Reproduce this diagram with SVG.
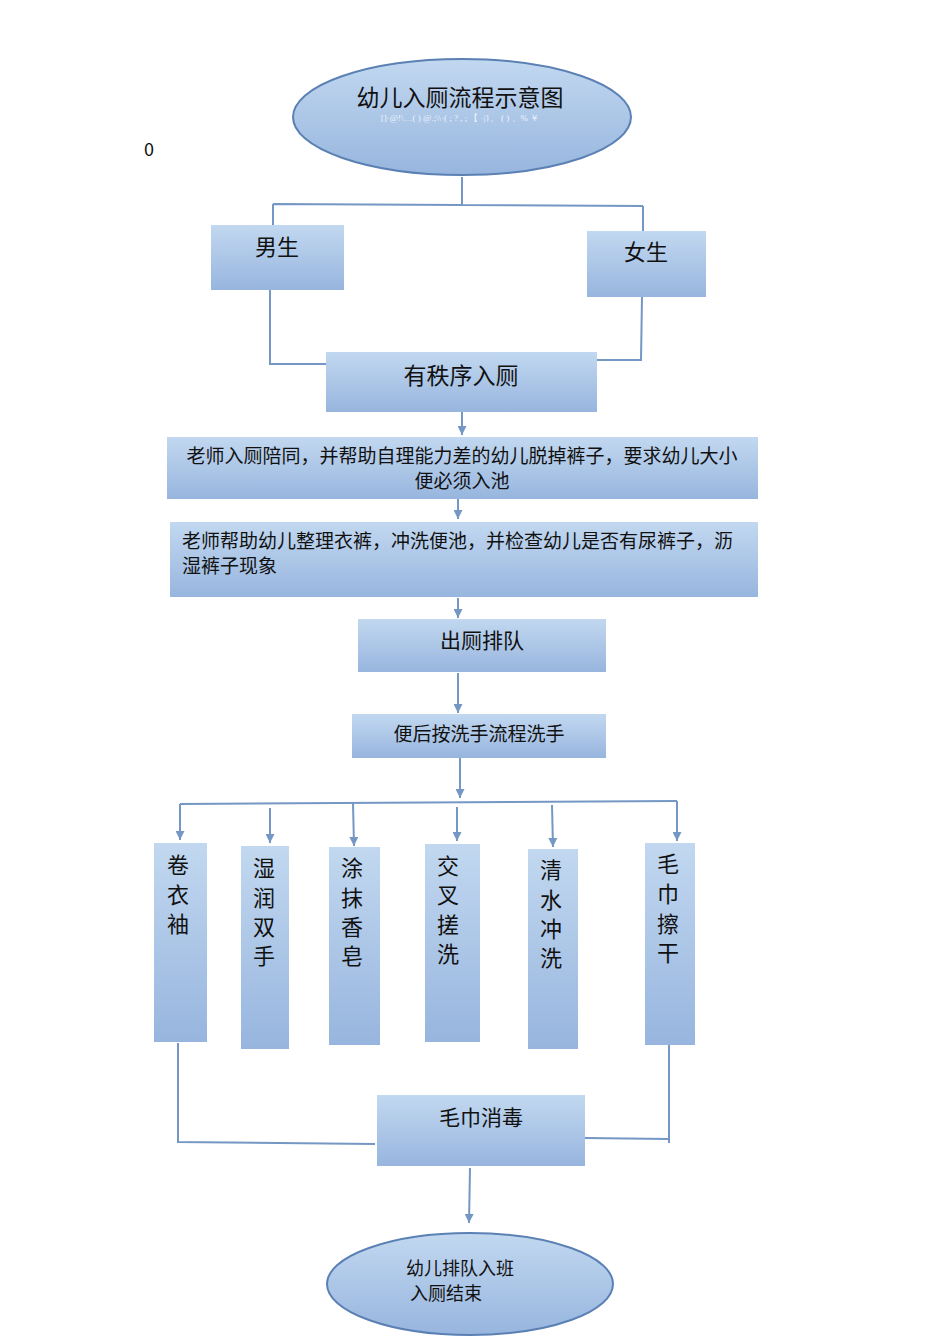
<svg xmlns="http://www.w3.org/2000/svg" width="950" height="1344" viewBox="0 0 950 1344">
<defs>
<linearGradient id="g" x1="0" y1="0" x2="0" y2="1"><stop offset="0" stop-color="#c2d8f0"/><stop offset="1" stop-color="#97b5de"/></linearGradient>
<marker id="a" markerWidth="9" markerHeight="9" refX="9" refY="4.5" orient="auto" markerUnits="userSpaceOnUse" viewBox="0 0 9 9"><path d="M0,0 L9,4.5 L0,9 Z" fill="#7497c4"/></marker>
<style>
.b{fill:url(#g);}
.e{fill:url(#g);stroke:#5b80b4;stroke-width:2;}
.t{font-family:"Noto Sans CJK SC","Liberation Sans",sans-serif;fill:#111;}
.c{fill:none;stroke:#7497c4;stroke-width:2;}
.ca{fill:none;stroke:#7497c4;stroke-width:2;marker-end:url(#a);}
</style>
</defs>
<rect width="950" height="1344" fill="#fff"/>
<text x="144" y="156" class="t" font-size="18">0</text>
<g id="connectors">
<path class="c" d="M462,177 V205 M273,204 L643,206 M273,204 V226 M643,206 V232 M270,290 V364 H327 M642,297 L641,360 H597"/>
<path class="ca" d="M462,412 V435"/>
<path class="ca" d="M458,499 V519"/>
<path class="ca" d="M458,598 V618"/>
<path class="ca" d="M458,673 V713"/>
<path class="ca" d="M460,757 V798"/>
<path class="c" d="M180,804 L677,801"/>
<path class="ca" d="M180,804 V840"/>
<path class="ca" d="M270,808 V843"/>
<path class="ca" d="M353,803 L354,846"/>
<path class="ca" d="M457,807 V841"/>
<path class="ca" d="M552,805 L553,847"/>
<path class="ca" d="M677,801 V841"/>
<path class="c" d="M178,1043 V1142 L375,1144 M669,1045 V1143 M669,1139 L585,1138"/>
<path class="ca" d="M470,1168 L469,1223"/>
</g>
<g id="n_title"><ellipse class="e" cx="462" cy="117" rx="169" ry="58"/><text x="460" y="106" class="t" font-size="23" text-anchor="middle">幼儿入厕流程示意图</text><text x="460" y="121" font-family="Liberation Serif,serif" font-size="9" fill="#eef4fb" text-anchor="middle">[]·@!\…( )  @.;\\·( ; ?  ,  ;  【 ·|}、 ( ) 、% ￥</text></g>
<g id="n_boy"><rect class="b" x="211" y="225" width="133" height="65"/><text x="277" y="255" class="t" font-size="22" text-anchor="middle">男生</text></g>
<g id="n_girl"><rect class="b" x="587" y="231" width="119" height="66"/><text x="646" y="260" class="t" font-size="22" text-anchor="middle">女生</text></g>
<g id="n_order"><rect class="b" x="326" y="352" width="271" height="60"/><text x="461" y="384" class="t" font-size="23" text-anchor="middle">有秩序入厕</text></g>
<g id="n_t1"><rect class="b" x="167" y="437" width="591" height="62"/><text x="462" y="463" class="t" font-size="19" text-anchor="middle">老师入厕陪同，并帮助自理能力差的幼儿脱掉裤子，要求幼儿大小</text><text x="462" y="488" class="t" font-size="19" text-anchor="middle">便必须入池</text></g>
<g id="n_t2"><rect class="b" x="170" y="522" width="588" height="75"/><text x="182" y="548" class="t" font-size="19">老师帮助幼儿整理衣裤，冲洗便池，并检查幼儿是否有尿裤子，沥</text><text x="182" y="573" class="t" font-size="19">湿裤子现象</text></g>
<g id="n_out"><rect class="b" x="358" y="619" width="248" height="53"/><text x="482" y="648" class="t" font-size="21" text-anchor="middle">出厕排队</text></g>
<g id="n_wash"><rect class="b" x="352" y="714" width="254" height="44"/><text x="479" y="741" class="t" font-size="19" text-anchor="middle">便后按洗手流程洗手</text></g>
<g id="n_s1"><rect class="b" x="154" y="843" width="53" height="199"/><text x="178" y="873" class="t" font-size="22" text-anchor="middle">卷</text><text x="178" y="903" class="t" font-size="22" text-anchor="middle">衣</text><text x="178" y="932" class="t" font-size="22" text-anchor="middle">袖</text></g>
<g id="n_s2"><rect class="b" x="241" y="846" width="48" height="203"/><text x="264" y="876" class="t" font-size="22" text-anchor="middle">湿</text><text x="264" y="906" class="t" font-size="22" text-anchor="middle">润</text><text x="264" y="935" class="t" font-size="22" text-anchor="middle">双</text><text x="264" y="964" class="t" font-size="22" text-anchor="middle">手</text></g>
<g id="n_s3"><rect class="b" x="329" y="847" width="51" height="198"/><text x="352" y="876" class="t" font-size="22" text-anchor="middle">涂</text><text x="352" y="906" class="t" font-size="22" text-anchor="middle">抹</text><text x="352" y="935" class="t" font-size="22" text-anchor="middle">香</text><text x="352" y="964" class="t" font-size="22" text-anchor="middle">皂</text></g>
<g id="n_s4"><rect class="b" x="425" y="844" width="55" height="198"/><text x="448" y="874" class="t" font-size="22" text-anchor="middle">交</text><text x="448" y="903" class="t" font-size="22" text-anchor="middle">叉</text><text x="448" y="933" class="t" font-size="22" text-anchor="middle">搓</text><text x="448" y="962" class="t" font-size="22" text-anchor="middle">洗</text></g>
<g id="n_s5"><rect class="b" x="528" y="849" width="50" height="200"/><text x="551" y="878" class="t" font-size="22" text-anchor="middle">清</text><text x="551" y="908" class="t" font-size="22" text-anchor="middle">水</text><text x="551" y="937" class="t" font-size="22" text-anchor="middle">冲</text><text x="551" y="966" class="t" font-size="22" text-anchor="middle">洗</text></g>
<g id="n_s6"><rect class="b" x="645" y="843" width="50" height="202"/><text x="668" y="872" class="t" font-size="22" text-anchor="middle">毛</text><text x="668" y="902" class="t" font-size="22" text-anchor="middle">巾</text><text x="668" y="932" class="t" font-size="22" text-anchor="middle">擦</text><text x="668" y="961" class="t" font-size="22" text-anchor="middle">干</text></g>
<g id="n_towel"><rect class="b" x="377" y="1095" width="208" height="71"/><text x="481" y="1125" class="t" font-size="21" text-anchor="middle">毛巾消毒</text></g>
<g id="n_end"><ellipse class="e" cx="470" cy="1284" rx="143" ry="51"/><text x="460" y="1275" class="t" font-size="18" text-anchor="middle">幼儿排队入班</text><text x="446" y="1300" class="t" font-size="18" text-anchor="middle">入厕结束</text></g>
</svg>
